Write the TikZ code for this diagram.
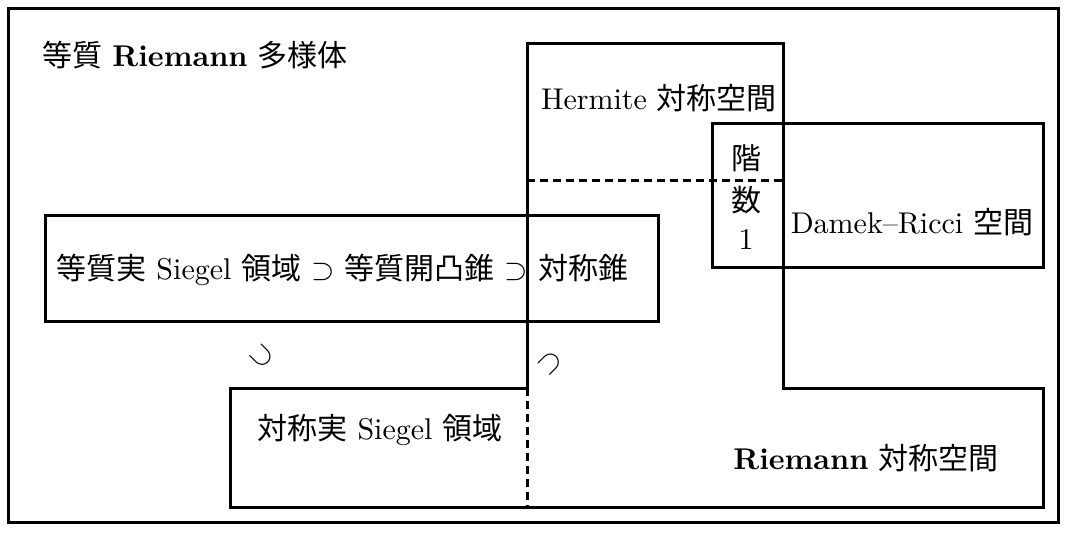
\documentclass[tikz,border=0pt]{standalone}
\usepackage{fontspec}
\newfontfamily\cjk{Noto Sans CJK JP}
\begin{document}
\begin{tikzpicture}[x=1pt,y=-1pt,line width=3pt,
  boxline/.style={draw,line width=3pt},
  dashline/.style={line width=3pt,dash pattern=on 8pt off 5pt},
  lbl/.style={inner sep=0pt,font=\fontsize{10}{12}\selectfont,scale=3},
  rel/.style={inner sep=0pt,font=\fontsize{10}{12}\selectfont,scale=3}]
\useasboundingbox (0,0) rectangle (1066,536);
% outer frame
\draw[boxline] (8,8) rectangle (1058,522);
\node[lbl,anchor=west] (title) at (38,55) {{\cjk 等質} \textbf{Riemann} {\cjk 多様体}};
% Riemann symmetric space (L-shape) and Hermite part
\coordinate (hTL) at (527,43);
\coordinate (hTR) at (783,43);
\coordinate (step) at (783,388);
\coordinate (rTR) at (1043,388);
\coordinate (rBR) at (1043,507);
\coordinate (rBL) at (527,507);
\coordinate (sBL) at (230,507);
\coordinate (sTL) at (230,388);
\coordinate (sTR) at (527,388);
\draw[boxline] (sTR) -- (hTL) -- (hTR) -- (step) -- (rTR) -- (rBR) -- (sBL) -- (sTL) -- (sTR);
\draw[dashline] (sTR) -- (rBL);
\draw[dashline] (527,180) -- (783,180);
% Damek-Ricci box
\draw[boxline] (712,123) rectangle (1043,267);
% homogeneous real Siegel box
\draw[boxline] (45,215) rectangle (658,321);
% labels
\node[lbl] (herm) at (659,98) {Hermite {\cjk 対称空間}};
\node[lbl] (kai) at (746,158) {\cjk 階};
\node[lbl] (suu) at (746,200) {\cjk 数};
\node[lbl] (one) at (746,240) {1};
\node[lbl] (dr) at (912,222) {Damek--Ricci {\cjk 空間}};
\node[lbl,anchor=west] (hsieg) at (52,270) {{\cjk 等質実} Siegel {\cjk 領域} $\supset$ {\cjk 等質開凸錐} $\supset$ {\cjk 対称錐}};
\node[lbl] (ssieg) at (380,430) {{\cjk 対称実} Siegel {\cjk 領域}};
\node[lbl] (rsym) at (866,458) {\textbf{Riemann} {\cjk 対称空間}};
\node[rel,rotate=-45] (sup1) at (262,356) {$\supset$};
\node[rel,rotate=45] (sup2) at (550,363) {$\supset$};
\end{tikzpicture}
\end{document}
